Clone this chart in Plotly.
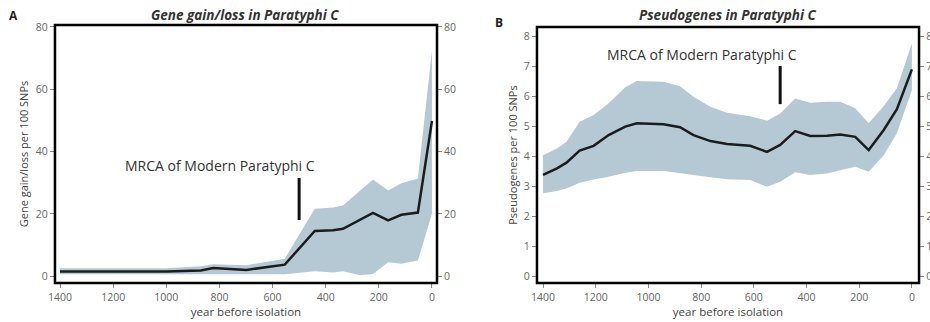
import plotly.graph_objects as go

# ---- Panel A data: Gene gain/loss per 100 SNPs ----
a_years = [1400, 1000, 870, 823, 698, 623, 554, 441, 372, 335, 222, 165, 115, 53, 0]
a_mean = [1.5, 1.5, 1.8, 2.6, 2.0, 2.9, 3.7, 14.5, 14.7, 15.2, 20.3, 17.9, 19.7, 20.4, 49.8]
a_up_years = [1400, 1000, 870, 823, 698, 623, 554, 441, 372, 335, 270, 222, 165, 115, 53, 0]
a_upper = [2.5, 2.5, 3.2, 3.8, 3.5, 4.5, 5.6, 21.6, 22.0, 22.7, 27.5, 31.0, 27.5, 29.8, 31.3, 72.5]
a_lower = [0.6, 0.6, 0.6, 0.6, 0.6, 0.6, 0.6, 1.6, 1.2, 1.6, 0.3, 0.7, 4.5, 4.0, 5.0, 20.0]

# ---- Panel B data: Pseudogenes per 100 SNPs ----
b_years = [1400, 1347, 1311, 1261, 1208, 1151, 1088, 1044, 943, 880, 829, 765, 702, 614, 550,
           500, 443, 386, 322, 272, 215, 164, 107, 57, 0]
b_mean = [3.37, 3.59, 3.78, 4.18, 4.34, 4.70, 4.98, 5.09, 5.06, 4.96, 4.70, 4.50, 4.40, 4.34, 4.14,
          4.37, 4.83, 4.67, 4.68, 4.72, 4.64, 4.20, 4.87, 5.56, 6.89]
b_upper = [4.03, 4.25, 4.48, 5.14, 5.37, 5.76, 6.29, 6.50, 6.48, 6.33, 5.98, 5.64, 5.44, 5.33, 5.18,
           5.42, 5.92, 5.78, 5.81, 5.81, 5.59, 5.09, 5.67, 6.26, 7.76]
b_lower = [2.76, 2.84, 2.92, 3.11, 3.22, 3.31, 3.44, 3.50, 3.50, 3.44, 3.37, 3.29, 3.23, 3.20, 2.98,
           3.14, 3.46, 3.37, 3.42, 3.53, 3.64, 3.48, 4.03, 4.76, 6.20]

x_ticks = [1400, 1200, 1000, 800, 600, 400, 200, 0]
a_yticks = [0, 20, 40, 60, 80]
b_yticks = [0, 1, 2, 3, 4, 5, 6, 7, 8]

mrca_year = 500
a_marker = [18, 31.5]
b_marker = [5.73, 7.0]
mrca_label = "MRCA of Modern Paratyphi C"

band_color = "#b5c9d5"
line_color = "#1c1c1c"
font_family = "Open Sans, Liberation Sans, sans-serif"

fig = go.Figure()

# Panel A
fig.add_trace(go.Scatter(x=a_up_years, y=a_upper, mode="lines", line=dict(width=0),
                         showlegend=False, hoverinfo="skip", xaxis="x", yaxis="y"))
fig.add_trace(go.Scatter(x=a_up_years, y=a_lower, mode="lines", line=dict(width=0),
                         fill="tonexty", fillcolor=band_color,
                         showlegend=False, hoverinfo="skip", xaxis="x", yaxis="y"))
fig.add_trace(go.Scatter(x=a_years, y=a_mean, mode="lines", line=dict(color=line_color, width=2.5),
                         showlegend=False, xaxis="x", yaxis="y"))
fig.add_trace(go.Scatter(x=[mrca_year, mrca_year], y=a_marker, mode="lines",
                         line=dict(color="#111", width=3), showlegend=False, xaxis="x", yaxis="y"))
fig.add_trace(go.Scatter(x=[0], y=[0], mode="markers", marker=dict(opacity=0),
                         showlegend=False, hoverinfo="skip", xaxis="x", yaxis="y3"))

# Panel B
fig.add_trace(go.Scatter(x=b_years, y=b_upper, mode="lines", line=dict(width=0),
                         showlegend=False, hoverinfo="skip", xaxis="x2", yaxis="y2"))
fig.add_trace(go.Scatter(x=b_years, y=b_lower, mode="lines", line=dict(width=0),
                         fill="tonexty", fillcolor=band_color,
                         showlegend=False, hoverinfo="skip", xaxis="x2", yaxis="y2"))
fig.add_trace(go.Scatter(x=b_years, y=b_mean, mode="lines", line=dict(color=line_color, width=2.5),
                         showlegend=False, xaxis="x2", yaxis="y2"))
fig.add_trace(go.Scatter(x=[mrca_year, mrca_year], y=b_marker, mode="lines",
                         line=dict(color="#111", width=3), showlegend=False, xaxis="x2", yaxis="y2"))
fig.add_trace(go.Scatter(x=[0], y=[0], mode="markers", marker=dict(opacity=0),
                         showlegend=False, hoverinfo="skip", xaxis="x2", yaxis="y4"))

tickfont = dict(family=font_family, size=10.5, color="#666")
titlefont = dict(family=font_family, size=11.5, color="#444")
common_axis = dict(showline=False, ticks="outside", automargin=False,
                   ticklen=4, tickcolor="#888", tickwidth=1, showgrid=False, zeroline=False,
                   tickfont=tickfont)

fig.update_layout(
    width=930, height=322,
    margin=dict(l=0, r=0, t=0, b=0, autoexpand=False),
    paper_bgcolor="white", plot_bgcolor="white",
    font=dict(family=font_family),
    xaxis=dict(domain=[0.0591, 0.4699], range=[1419, -19], tickvals=x_ticks, anchor="y",
               title=dict(text="year before isolation", font=titlefont, standoff=1),
               **common_axis),
    yaxis=dict(domain=[0.1211, 0.9224], range=[-2.2, 80.6], tickvals=a_yticks, anchor="x",
               title=dict(text="Gene gain/loss per 100 SNPs", font=dict(family=font_family, size=11, color="#444"), standoff=4),
               **common_axis),
    yaxis3=dict(overlaying="y", side="right", range=[-2.2, 80.6], tickvals=a_yticks, anchor="x",
                **common_axis),
    xaxis2=dict(domain=[0.5774, 0.9882], range=[1423, -27], tickvals=x_ticks, anchor="y2",
                title=dict(text="year before isolation", font=titlefont, standoff=1),
                **common_axis),
    yaxis2=dict(domain=[0.1211, 0.9161], range=[-0.23, 8.3], tickvals=b_yticks, anchor="x2",
                title=dict(text="Pseudogenes per 100 SNPs", font=dict(family=font_family, size=11, color="#444"), standoff=4),
                **common_axis),
    yaxis4=dict(overlaying="y2", side="right", range=[-0.23, 8.3], tickvals=b_yticks, anchor="x2",
                **common_axis),
)

# frames around each panel
for xr, yr in (("x domain", "y domain"), ("x2 domain", "y2 domain")):
    fig.add_shape(type="rect", xref=xr, yref=yr, x0=0, x1=1, y0=0, y1=1,
                  line=dict(color="black", width=2.5), layer="above")

def label(text, x, y, size, color="#333"):
    fig.add_annotation(text=text, xref="paper", yref="paper", x=x / 930, y=1 - y / 322,
                       xanchor="center", yanchor="middle", showarrow=False,
                       font=dict(family=font_family, size=size, color=color))

label("<b><i>Gene gain/loss in Paratyphi C</i></b>", 245, 15, 13.5)
label("<b><i>Pseudogenes in Paratyphi C</i></b>", 727, 15, 13.5)
label("<b>A</b>", 13, 16, 12, "#222")
label("<b>B</b>", 499, 22, 12, "#222")
label(mrca_label, 220, 165, 14)
label(mrca_label, 702, 55, 14)

fig.write_html("out.html", config={"displayModeBar": False},
               post_script="document.body.style.margin='0';")
